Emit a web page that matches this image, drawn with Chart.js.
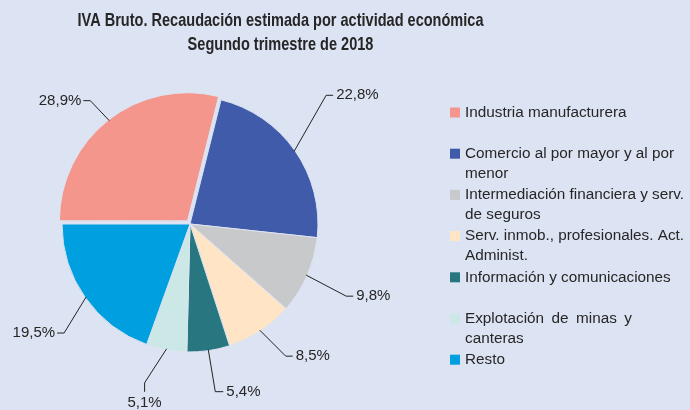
<!DOCTYPE html>
<html>
<head>
<meta charset="utf-8">
<title>IVA Bruto por actividad</title>
<script src="https://cdn.jsdelivr.net/npm/chart.js@4.4.1/dist/chart.umd.min.js"></script>
<style>
  html, body { margin: 0; padding: 0; background: #dce3f2; }
  #wrap { position: relative; width: 690px; height: 410px; }
</style>
</head>
<body>
<div id="wrap"><canvas id="chart" width="690" height="410"></canvas></div>
<script>
'use strict';

// Data
const categories = [
  'Industria manufacturera',
  'Comercio al por mayor y al por menor',
  'Intermediación financiera y serv. de seguros',
  'Serv. inmob., profesionales. Act. Administ.',
  'Información y comunicaciones',
  'Explotación de minas y canteras',
  'Resto'
];
const shares = [28.9, 22.8, 9.8, 8.5, 5.4, 5.1, 19.5];
const sliceColors = ['#f5968d', '#3f5ba9', '#c8c9cb', '#ffe5c5', '#28767f', '#cbe8e6', '#009fdf'];
const titleLines = ['IVA Bruto. Recaudación estimada por actividad económica', 'Segundo trimestre de 2018'];

// Layout (leader lines: elbow offset from slice edge, then short tick)
const labelLayout = [
  {dx: -19, dy: -20, tx: -7, ty: 0},
  {dx: 32, dy: -56, tx: 7, ty: 0},
  {dx: 40, dy: 21, tx: 7, ty: 0},
  {dx: 26, dy: 26, tx: 7, ty: 0},
  {dx: 7, dy: 42, tx: 8, ty: 0},
  {dx: -22, dy: 34, tx: 0, ty: 9},
  {dx: -22, dy: 36, tx: -7, ty: 0}
];
const legendWrap = [224, 224, 224, 224, 224, 167, 224];
const legendJustify = [false, false, false, false, false, true, false];
const bgColor = '#dce3f2';
const textColor = '#262626';
const FONT = "'Liberation Sans', Arial, sans-serif";
const titleSquash = 0.765; // the original title uses a narrow face

function pctText(v) {
  return v.toFixed(1).replace('.', ',') + '%';
}

function wrapText(ctx, text, maxW) {
  let words = text.split(' '), lines = [], cur = '';
  words.forEach(w => {
    let t = cur ? cur + ' ' + w : w;
    if (cur && ctx.measureText(t).width > maxW) {
      lines.push(cur);
      cur = w;
    } else {
      cur = t;
    }
  });
  if (cur) lines.push(cur);
  return lines;
}

// where chart.js actually puts an exploded slice
function arcShift(arc) {
  let off = (arc.options.offset || 0) / 4;
  let circ = arc.endAngle - arc.startAngle;
  let fix = 1 - Math.sin(Math.min(Math.PI, circ));
  return off * (1 + fix);
}

const titlePlugin = {
  id: 'titleText',
  afterDraw(chart) {
    let ctx = chart.ctx;
    ctx.save();
    ctx.fillStyle = textColor;
    ctx.font = 'bold 19px ' + FONT;
    ctx.textAlign = 'center';
    ctx.textBaseline = 'middle';
    ctx.translate(280.5, 0);
    ctx.scale(titleSquash, 1);
    ctx.fillText(titleLines[0], 0, 21);
    ctx.fillText(titleLines[1], 0, 45);
    ctx.restore();
  }
};

const pctLabels = {
  id: 'pctLabels',
  afterDatasetsDraw(chart) {
    let ctx = chart.ctx;
    let meta = chart.getDatasetMeta(0);
    ctx.save();
    ctx.font = '15px ' + FONT;
    ctx.fillStyle = textColor;
    ctx.strokeStyle = '#222';
    ctx.lineWidth = 1;
    meta.data.forEach((arc, i) => {
      let lay = labelLayout[i];
      let mid = (arc.startAngle + arc.endAngle) / 2;
      let r = arc.outerRadius - 1 + arcShift(arc);
      let ax = arc.x + Math.cos(mid) * r;
      let ay = arc.y + Math.sin(mid) * r;
      let ex = ax + lay.dx, ey = ay + lay.dy;
      let tx = ex + lay.tx, ty = ey + lay.ty;
      ctx.beginPath();
      ctx.moveTo(ax, ay);
      ctx.lineTo(ex, ey);
      ctx.lineTo(tx, ty);
      ctx.stroke();
      let txt = pctText(shares[i]);
      if (lay.ty > 0) {
        ctx.textAlign = 'center';
        ctx.textBaseline = 'top';
        ctx.fillText(txt, tx, ty + 4);
      } else if (lay.tx < 0) {
        ctx.textAlign = 'right';
        ctx.textBaseline = 'middle';
        ctx.fillText(txt, tx - 2, ty);
      } else {
        ctx.textAlign = 'left';
        ctx.textBaseline = 'middle';
        ctx.fillText(txt, tx + 3, ty);
      }
    });
    ctx.restore();
  }
};

const sideLegend = {
  id: 'sideLegend',
  afterDraw(chart) {
    let ctx = chart.ctx;
    let x0 = 450, tx = 465, y0 = 112.5, step = 41.2, lh = 20;
    ctx.save();
    ctx.font = '15.3px ' + FONT;
    ctx.textBaseline = 'middle';
    ctx.textAlign = 'left';
    categories.forEach((name, i) => {
      let y = y0 + i * step;
      ctx.fillStyle = sliceColors[i];
      ctx.fillRect(x0, y - 5, 10, 10);
      ctx.fillStyle = textColor;
      let lines = wrapText(ctx, name, legendWrap[i] + 5);
      lines.forEach((ln, j) => {
        let ly = y + j * lh;
        if (legendJustify[i] && j < lines.length - 1) {
          // spread words over the wrap width
          let words = ln.split(' ');
          let wsum = words.reduce((s, w) => s + ctx.measureText(w).width, 0);
          let gap = (legendWrap[i] - wsum) / (words.length - 1);
          let cx = tx;
          words.forEach(w => {
            ctx.fillText(w, cx, ly);
            cx += ctx.measureText(w).width + gap;
          });
        } else {
          ctx.fillText(ln, tx, ly);
        }
      });
    });
    ctx.restore();
  }
};

let ctx = document.getElementById('chart');
let chart = new Chart(ctx, {
  type: 'pie',
  data: {
    labels: categories,
    datasets: [{
      data: shares,
      backgroundColor: sliceColors,
      borderColor: bgColor,
      borderWidth: 1,
      hoverBorderWidth: 1,
      offset: [16, 0, 0, 0, 0, 0, 0],
      hoverOffset: 0
    }]
  },
  options: {
    responsive: false,
    animation: false,
    rotation: -90,
    layout: {
      padding: {left: 53.5, top: 87.5, right: 363.5, bottom: 49.5}
    },
    plugins: {
      legend: {display: false},
      title: {display: false},
      tooltip: {enabled: false}
    },
    events: []
  },
  plugins: [pctLabels, sideLegend, titlePlugin]
});
</script>
</body>
</html>
